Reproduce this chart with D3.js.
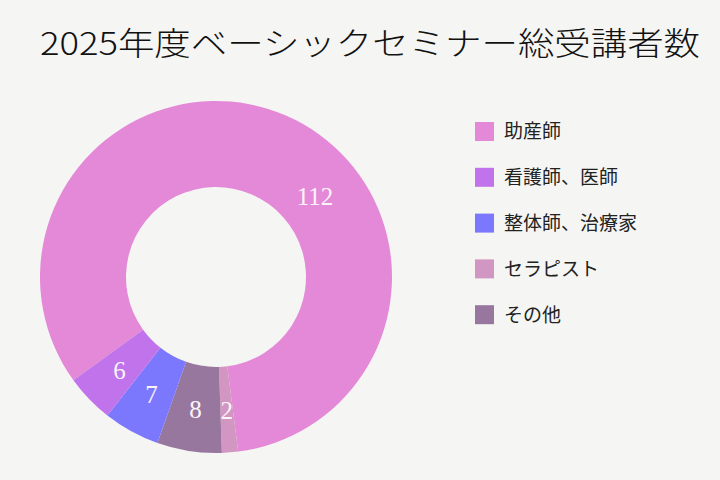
<!DOCTYPE html>
<html>
<head>
<meta charset="utf-8">
<script src="https://cdn.jsdelivr.net/npm/d3@7"></script>
<style>
  body { margin: 0; background: #f5f5f3; }
  svg { display: block; }
</style>
</head>
<body>
<svg></svg>
<script>
// legend order
var categories = ["助産師", "看護師、医師", "整体師、治療家", "セラピスト", "その他"];
var counts = [112, 6, 7, 2, 8];
var colors = ["#e488d8", "#c073eb", "#7b78fe", "#d196c1", "#98779f"];
// order the slices run clockwise round the ring
var sliceOrder = ["助産師", "セラピスト", "その他", "整体師、治療家", "看護師、医師"];
var title = "2025年度ベーシックセミナー総受講者数";

var screen = { width: 720, height: 480 };
var center = { x: 216, y: 277 };
var radius = { outer: 176, inner: 90 };

var makeTranslateString = function (x, y) {
  return "translate(" + x + "," + y + ")";
};

var svg = d3.select("svg").attr("width", screen.width).attr("height", screen.height);

svg.append("rect")
  .attr("width", screen.width)
  .attr("height", screen.height)
  .attr("fill", "#f5f5f3");

var slices = sliceOrder.map(function (name) {
  var i = categories.indexOf(name);
  return { name: name, value: counts[i] };
});

var colorScale = d3.scaleOrdinal().domain(categories).range(colors);

var pie = d3.pie()
  .sort(null)
  .value(function (d) { return d.value; })
  .startAngle(234.1 * Math.PI / 180)
  .endAngle(234.1 * Math.PI / 180 + 2 * Math.PI);

var arc = d3.arc().innerRadius(radius.inner).outerRadius(radius.outer);

var ring = svg.append("g")
  .attr("id", "ring")
  .attr("transform", makeTranslateString(center.x, center.y));

var arcs = pie(slices);

ring.selectAll("path")
  .data(arcs)
  .enter()
  .append("path")
  .attr("d", arc)
  .attr("fill", function (d) { return colorScale(d.data.name); });

// the big slice keeps its label up on the right side, not at its middle
var labelPos = function (d) {
  var a = (d.startAngle + d.endAngle) / 2;
  var r = 134;
  if (d.endAngle - d.startAngle > Math.PI) {
    a = 50.7 * Math.PI / 180;
    r = 128;
  }
  return [r * Math.sin(a), -r * Math.cos(a)];
};

ring.selectAll("text")
  .data(arcs)
  .enter()
  .append("text")
  .attr("x", function (d) { return labelPos(d)[0]; })
  .attr("y", function (d) { return labelPos(d)[1]; })
  .attr("dy", "0.35em")
  .attr("text-anchor", "middle")
  .attr("font-family", "'Liberation Serif', 'DejaVu Serif', serif")
  .attr("font-size", 25)
  .attr("fill", "#fbf3fa")
  .text(function (d) { return d.value; });

svg.append("text")
  .attr("x", 40)
  .attr("y", 55)
  .attr("font-family", "'Noto Sans CJK JP', sans-serif")
  .attr("font-weight", 300)
  .attr("font-size", 32)
  .attr("fill", "#111")
  .attr("textLength", 660)
  .attr("lengthAdjust", "spacingAndGlyphs")
  .text(title);

var legend = svg.append("g")
  .attr("class", "legend")
  .attr("transform", makeTranslateString(475, 122));

var entries = legend.selectAll("g")
  .data(categories)
  .enter()
  .append("g")
  .attr("transform", function (c, i) { return "translate(0," + i * 45.8 + ")"; });

entries.append("rect")
  .attr("width", 19)
  .attr("height", 19)
  .attr("fill", function (c) { return colorScale(c); });

entries.append("text")
  .attr("x", 29)
  .attr("y", 9.5)
  .attr("dy", "0.36em")
  .attr("font-family", "'Noto Sans CJK JP', sans-serif")
  .attr("font-size", 19)
  .attr("fill", "#222")
  .text(function (c) { return c; });
</script>
</body>
</html>
